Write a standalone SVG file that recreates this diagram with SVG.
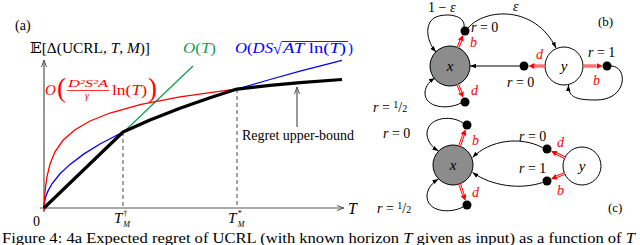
<svg xmlns="http://www.w3.org/2000/svg" width="640" height="245" viewBox="0 0 640 245" font-family="'Liberation Serif', 'DejaVu Serif', serif">
<style>
text{font-family:"Liberation Serif","DejaVu Serif",serif;fill:#000}
.it{font-style:italic}
.red{fill:#f00}
.curve{fill:none;stroke-width:1.3}
.ax{fill:none;stroke:#555;stroke-width:1.2}
.dash{fill:none;stroke:#666;stroke-width:1.2;stroke-dasharray:4 3}
.edge{fill:none;stroke:#000;stroke-width:1;marker-end:url(#ka)}
.dblr{fill:none;stroke:#f00;stroke-width:2.8;marker-end:url(#ra)}
.dblw{fill:none;stroke:#fff;stroke-width:0.9}
.sx{fill:#8c8c8c;stroke:#000;stroke-width:1}
.sy{fill:#fff;stroke:#000;stroke-width:1}
.dot{fill:#000}
</style>
<defs>
<marker id="ka" viewBox="0 0 6 6" refX="6" refY="3" markerWidth="6" markerHeight="6" markerUnits="userSpaceOnUse" orient="auto"><path d="M0,0.8 L6,3 L0,5.2 z" fill="#000"/></marker>
<marker id="ga" viewBox="0 0 7 6" refX="7" refY="3" markerWidth="7" markerHeight="6" markerUnits="userSpaceOnUse" orient="auto"><path d="M0,0.5 L7,3 L0,5.5" fill="none" stroke="#555" stroke-width="1"/></marker>
<marker id="ra" viewBox="0 0 6 6" refX="0" refY="3" markerWidth="6" markerHeight="6" markerUnits="userSpaceOnUse" orient="auto"><path d="M0,0 L6,3 L0,6 z" fill="#f00"/></marker>
</defs>

<!-- Panel (a): plot -->
<g id="panel-a">
<text x="15" y="30" font-size="14">(a)</text>
<text x="30" y="53" font-size="15" textLength="120" lengthAdjust="spacingAndGlyphs">𝔼[Δ(UCRL, <tspan class="it">T</tspan>, <tspan class="it">M</tspan>)]</text>
<g id="axes">
<path class="ax" d="M44,212 L44,60" marker-end="url(#ga)"/>
<path class="ax" d="M40,208 L344,208" marker-end="url(#ga)"/>
<text x="348" y="214" font-size="16" class="it">T</text>
<text x="33" y="226" font-size="14">0</text>
<text x="114" y="223" font-size="15" class="it">T<tspan font-size="8" font-style="normal" dx="1" dy="-7">†</tspan><tspan font-size="8" dx="-4" dy="11">M</tspan></text>
<text x="228" y="223" font-size="15" class="it">T<tspan font-size="8" font-style="normal" dx="1.5" dy="-7">*</tspan><tspan font-size="8" dx="-4" dy="11">M</tspan></text>
</g>
<path class="dash" d="M123,132 L123,208"/>
<path class="dash" d="M237,89 L237,208"/>
<path id="green" class="curve" stroke="#10a050" d="M44,208 L193,66"/>
<path id="blue" class="curve" stroke="#00f" d="M44,208 L45,199.5 L46,195.9 L48,190.9 L52,183.8 L60,173.8 L70,164.4 L84,153.9 L100,144 L123,132 L150,120 L180,108.3 L210,97.8 L237,89.2 L270,79.5 L300,71.2 L342,60.4"/>
<path id="red" class="curve" stroke="#f00" d="M44,211 L44.3,202.1 L44.7,196 L45.5,187.3 L47,176.7 L50,164 L55,151.8 L63,140.3 L75,129.7 L90,121 L110,113 L140,104.6 L180,96.8 L237,88.9"/>
<path id="bound" fill="none" stroke="#000" stroke-width="3.2" stroke-linejoin="round" d="M44,208 L123,132 L150,120 L180,108.3 L210,97.8 L237,89.1 L270,85.4 L300,82.6 L342,79.5"/>
<text x="183" y="53" font-size="15" style="fill:#10a050" textLength="33" lengthAdjust="spacingAndGlyphs"><tspan class="it">O</tspan>(<tspan class="it">T</tspan>)</text>
<g id="blue-label">
<text x="235" y="53" font-size="15" style="fill:#00f" textLength="38" lengthAdjust="spacingAndGlyphs"><tspan class="it">O</tspan>(<tspan class="it">DS</tspan></text>
<text x="273" y="54" font-size="16" style="fill:#00f">√</text>
<line x1="282" y1="41.5" x2="348" y2="41.5" stroke="#00f" stroke-width="0.9"/>
<text x="283" y="53" font-size="15" style="fill:#00f" textLength="63" lengthAdjust="spacingAndGlyphs"><tspan class="it">AT</tspan> ln(<tspan class="it">T</tspan>)</text>
<text x="348" y="53" font-size="15" style="fill:#00f">)</text>
</g>
<g id="red-label">
<text x="45" y="95" font-size="15" class="it red">O</text>
<text x="57" y="97" font-size="27" class="red">(</text>
<text x="68" y="87" font-size="10" class="it red" textLength="40" lengthAdjust="spacingAndGlyphs">D²S²A</text>
<line x1="67" y1="90.5" x2="109" y2="90.5" stroke="#f00" stroke-width="0.8"/>
<text x="85" y="99" font-size="10" class="it red">γ</text>
<text x="112" y="95" font-size="15" class="red" textLength="35" lengthAdjust="spacingAndGlyphs">ln(<tspan class="it">T</tspan>)</text>
<text x="148" y="97" font-size="27" class="red">)</text>
</g>
<path fill="none" stroke="#555" stroke-width="1.2" d="M297,127 L297,87" marker-end="url(#ga)"/>
<text x="242" y="140" font-size="14">Regret upper-bound</text>
</g>

<!-- Panel (b) -->
<g id="b-x"><circle class="sx" cx="450" cy="66" r="20"/><text x="450" y="71" font-size="15" class="it" text-anchor="middle">x</text></g>
<g id="b-y"><circle class="sy" cx="564" cy="66" r="19"/><text x="564" y="71" font-size="15" class="it" text-anchor="middle">y</text></g>
<g id="b-xb"><circle class="dot" cx="465" cy="31" r="4.5"/></g>
<g id="b-xd"><circle class="dot" cx="465" cy="102" r="4.5"/></g>
<g id="b-yd"><circle class="dot" cx="524" cy="66" r="4.5"/></g>
<g id="b-yb"><circle class="dot" cx="607" cy="66" r="4.5"/></g>
<g id="b-connectors">
<path class="dblr" d="M457.9,47.6 L460.8,40.6"/><path class="dblw" d="M457.9,47.6 L460.8,40.6"/>
<path class="dblr" d="M457.7,84.5 L461,92.3"/><path class="dblw" d="M457.7,84.5 L461,92.3"/>
<path class="dblr" d="M545,66 L534.5,66"/><path class="dblw" d="M545,66 L534.5,66"/>
<path class="dblr" d="M583,66 L596.5,66"/><path class="dblw" d="M583,66 L596.5,66"/>
<path class="edge" d="M464,27 C466,15 445,12 434,18 C424,25 427,42 436,52"/>
<path class="edge" d="M468,28 C485,8 535,5 556,48"/>
<path class="edge" d="M519.5,66 L470,66"/>
<path class="edge" d="M611,66 C628,66 628,100 596,100 C578,100 568,98 568.5,85"/>
<path class="edge" d="M461,103 C448,110 424,108 425,92 C426,85 430,81 435,78"/>
</g>
<g id="b-labels">
<text x="428" y="12" font-size="14">1 − <tspan class="it">ε</tspan></text>
<text x="513" y="11" font-size="14" class="it">ε</text>
<text x="471" y="32" font-size="14"><tspan class="it">r</tspan> = 0</text>
<text x="507" y="87" font-size="14"><tspan class="it">r</tspan> = 0</text>
<text x="588" y="57" font-size="14"><tspan class="it">r</tspan> = 1</text>
<text x="373" y="112" font-size="14"><tspan class="it">r</tspan> = <tspan font-size="10" dy="-4">1</tspan><tspan dy="4">/</tspan><tspan font-size="10">2</tspan></text>
<text x="470" y="47" font-size="14" class="it red">b</text>
<text x="471" y="95" font-size="14" class="it red">d</text>
<text x="536" y="59" font-size="14" class="it red">d</text>
<text x="593" y="85" font-size="14" class="it red">b</text>
<text x="598" y="26" font-size="13">(b)</text>
</g>

<!-- Panel (c) -->
<g id="c-x"><circle class="sx" cx="453" cy="165" r="20"/><text x="453" y="170" font-size="15" class="it" text-anchor="middle">x</text></g>
<g id="c-y"><circle class="sy" cx="582" cy="166" r="19"/><text x="582" y="171" font-size="15" class="it" text-anchor="middle">y</text></g>
<g id="c-xb"><circle class="dot" cx="467" cy="125" r="4.5"/></g>
<g id="c-xd"><circle class="dot" cx="467" cy="205" r="4.5"/></g>
<g id="c-yd"><circle class="dot" cx="547" cy="149" r="4.5"/></g>
<g id="c-yb"><circle class="dot" cx="547" cy="181" r="4.5"/></g>
<g id="c-connectors">
<path class="dblr" d="M459.6,146.1 L463.5,134.9"/><path class="dblw" d="M459.6,146.1 L463.5,134.9"/>
<path class="dblr" d="M459.6,183.9 L463.5,195.1"/><path class="dblw" d="M459.6,183.9 L463.5,195.1"/>
<path class="dblr" d="M564.9,157.7 L556.4,153.6"/><path class="dblw" d="M564.9,157.7 L556.4,153.6"/>
<path class="dblr" d="M564.5,173.5 L556.6,176.8"/><path class="dblw" d="M564.5,173.5 L556.6,176.8"/>
<path class="edge" d="M463,123 C450,114 426,118 427,135 C428,142 432,147 438.5,151"/>
<path class="edge" d="M463,207 C450,214 426,212 427,195 C428,188 432,183 438.5,179"/>
<path class="edge" d="M542.5,147.5 C520,136 490,140 472.5,157.5"/>
<path class="edge" d="M542.5,182.5 C520,190 492,186 472.5,172.5"/>
</g>
<g id="c-labels">
<text x="383" y="138" font-size="14"><tspan class="it">r</tspan> = 0</text>
<text x="377" y="213" font-size="14"><tspan class="it">r</tspan> = <tspan font-size="10" dy="-4">1</tspan><tspan dy="4">/</tspan><tspan font-size="10">2</tspan></text>
<text x="519" y="141" font-size="14"><tspan class="it">r</tspan> = 0</text>
<text x="519" y="173" font-size="14"><tspan class="it">r</tspan> = 1</text>
<text x="472" y="145" font-size="14" class="it red">b</text>
<text x="472" y="197" font-size="14" class="it red">d</text>
<text x="557" y="147" font-size="14" class="it red">d</text>
<text x="557" y="195" font-size="14" class="it red">b</text>
<text x="608" y="212" font-size="13">(c)</text>
</g>

<text x="2" y="243" font-size="15" textLength="633" lengthAdjust="spacingAndGlyphs">Figure 4: 4a Expected regret of UCRL (with known horizon <tspan class="it">T</tspan> given as input) as a function of <tspan class="it">T</tspan></text>
</svg>
